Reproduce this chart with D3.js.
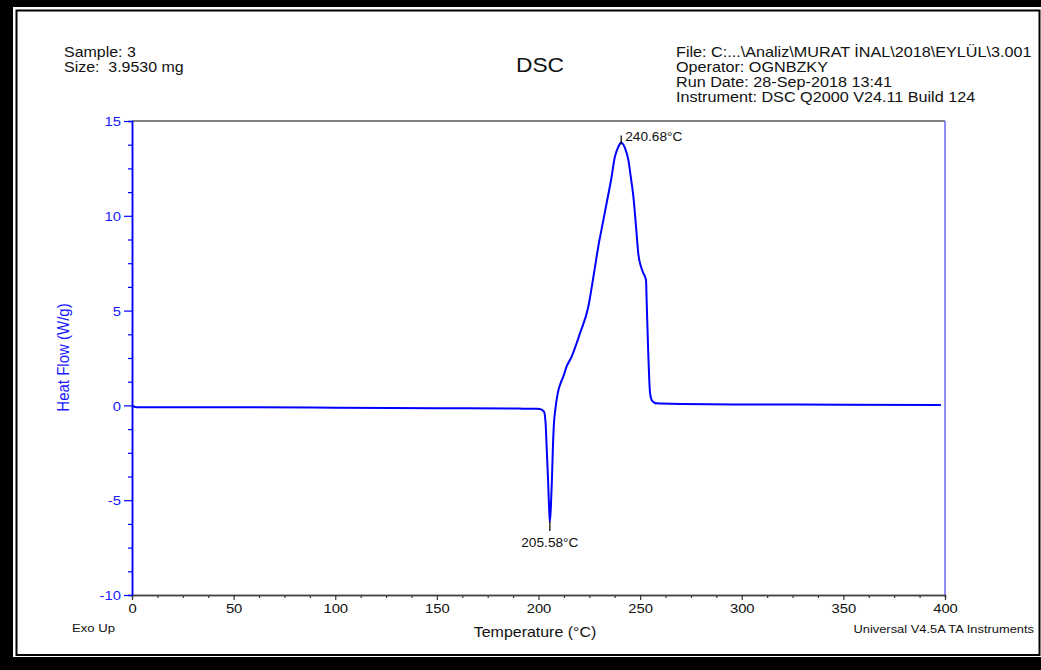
<!DOCTYPE html>
<html>
<head>
<meta charset="utf-8">
<script src="https://cdn.jsdelivr.net/npm/d3@7/dist/d3.min.js"></script>
<style>
  html, body { margin: 0; padding: 0; background: #000; }
  svg { display: block; }
  text { font-family: "Liberation Sans", Arial, Helvetica, sans-serif; white-space: pre; }
</style>
</head>
<body>
<script>
// DSC thermogram: temperature (°C) against heat flow (W/g), exo up
const temperature = [0, 1.5, 4, 20, 50, 100, 150, 190, 199, 200.7, 202.7, 203.5, 204.0, 204.7, 205.2, 205.58,
  206.1, 206.6, 207.1, 207.6, 208.3, 209.0, 209.8, 211.0, 212.2, 213.8, 216.3, 218.5, 220.4, 224.5, 227.3,
  229.4, 231.6, 233.5, 235.7, 237.6, 239.3, 240.68, 242.6, 244.2, 245.5, 246.7, 248.0, 249.1, 250.4, 251.6,
  252.9, 253.2, 253.5, 254.0, 254.5, 254.9, 255.7, 257.0, 258.1, 260, 270, 300, 350, 398];
const heatFlow = [0.0, -0.08, -0.1, -0.1, -0.1, -0.12, -0.15, -0.17, -0.18, -0.19, -0.33, -0.95, -2.18, -3.93, -5.34, -6.15,
  -5.34, -3.93, -2.18, -0.95, -0.2, 0.35, 0.8, 1.2, 1.52, 2.04, 2.57, 3.2, 3.8, 5.2, 6.97,
  8.37, 9.6, 10.66, 11.89, 13.12, 13.64, 13.87, 13.56, 12.95, 11.98, 11.0, 9.42, 8.0, 7.32, 6.97,
  6.6, 5.56, 4.5, 2.75, 1.34, 0.64, 0.28, 0.14, 0.11, 0.1, 0.07, 0.05, 0.04, 0.02];

const xTicks = [0, 50, 100, 150, 200, 250, 300, 350, 400];
const yTicks = [-10, -5, 0, 5, 10, 15];
const xMinorTicks = d3.range(0, 400.01, 12.5).filter(v => !xTicks.includes(v));
const yMinorTicks = d3.range(-10, 15.01, 1.25).filter(v => !yTicks.includes(v));

// annotated extrema: [temperature, heat flow, label]
const peakMark = [240.68, 13.87, "240.68°C"];
const troughMark = [205.58, -6.15, "205.58°C"];

const headerLeft = ["Sample: 3", "Size:  3.9530 mg"];
const headerRight = ["File: C:...\\Analiz\\MURAT İNAL\\2018\\EYLÜL\\3.001", "Operator: OGNBZKY",
  "Run Date: 28-Sep-2018 13:41", "Instrument: DSC Q2000 V24.11 Build 124"];

const W = 1041, H = 670;
const SX = 1.14; // horizontal glyph stretch of the printout

const svg = d3.select("body").append("svg").attr("width", W).attr("height", H);

// page frame: black surround, white sheet, thin inner rule
svg.append("rect").attr("x", 0).attr("y", 0).attr("width", W).attr("height", H).attr("fill", "#000");
svg.append("rect").attr("x", 13).attr("y", 7).attr("width", W - 13).attr("height", 650).attr("fill", "#fff");
svg.append("rect").attr("x", 16.5).attr("y", 10.5).attr("width", 1023).attr("height", 644.5)
  .attr("fill", "none").attr("stroke", "#000").attr("stroke-width", 2);

function label(x, y, s, o = {}) {
  return svg.append("text")
    .attr("xml:space", "preserve")
    .attr("transform", `translate(${x},${y}) scale(${SX},1)` + (o.rotate ? ` rotate(${o.rotate})` : ""))
    .attr("text-anchor", o.anchor || "start")
    .attr("font-size", o.size || 14)
    .attr("fill", o.fill || "#111")
    .text(s);
}

const x = d3.scaleLinear().domain([0, 400]).range([132, 945]);
const y = d3.scaleLinear().domain([-10, 15]).range([595, 121]);

// header blocks
headerLeft.forEach((s, i) => label(64, 57 + i * 15, s, { size: 14 }));
headerRight.forEach((s, i) => label(676, 57 + i * 15, s, { size: 14.2 }));
label(540, 72, "DSC", { size: 20, anchor: "middle" });

// plot frame: top rule and right rule
svg.append("line").attr("x1", x(0)).attr("x2", x(400)).attr("y1", y(15)).attr("y2", y(15))
  .attr("stroke", "#555").attr("stroke-width", 1.5);
svg.append("line").attr("x1", x(400)).attr("x2", x(400)).attr("y1", y(15)).attr("y2", y(-10))
  .attr("stroke", "#6a6aff").attr("stroke-width", 1.5);

const plain = d => String(d);

// y axis (blue)
const yMinor = svg.append("g").attr("transform", `translate(${x(0)},0)`)
  .call(d3.axisLeft(y).tickValues(yMinorTicks).tickSize(4).tickFormat(""));
const yAxis = svg.append("g").attr("transform", `translate(${x(0)},0)`)
  .call(d3.axisLeft(y).tickValues(yTicks).tickSize(8).tickSizeOuter(0).tickFormat(plain));
[yMinor, yAxis].forEach(g => {
  g.select(".domain").attr("stroke", "#0000ff").attr("stroke-width", 1.5);
  g.selectAll(".tick line").attr("stroke", "#0000ff").attr("stroke-width", 1.2);
});
yAxis.selectAll(".tick text")
  .attr("x", null).attr("dy", "0.36em")
  .attr("transform", `translate(-11,0) scale(${SX},1)`)
  .attr("fill", "#1a1aff").attr("font-size", 13)
  .attr("font-family", "'Liberation Sans', Arial, sans-serif");

// x axis
const xMinor = svg.append("g").attr("transform", `translate(0,${y(-10)})`)
  .call(d3.axisBottom(x).tickValues(xMinorTicks).tickSize(3).tickFormat(""));
const xAxis = svg.append("g").attr("transform", `translate(0,${y(-10)})`)
  .call(d3.axisBottom(x).tickValues(xTicks).tickSize(5).tickSizeOuter(0).tickFormat(plain));
[xMinor, xAxis].forEach(g => {
  g.select(".domain").attr("stroke", "#444").attr("stroke-width", 1.5);
  g.selectAll(".tick line").attr("stroke", "#333").attr("stroke-width", 1.2);
});
xAxis.selectAll(".tick text")
  .attr("y", null).attr("dy", null)
  .attr("transform", `translate(0,18) scale(${SX},1)`)
  .attr("fill", "#111").attr("font-size", 13)
  .attr("font-family", "'Liberation Sans', Arial, sans-serif");
// keep the blue y axis drawn over the x axis corner
yAxis.raise();

// axis titles
label(69, 357.5, "Heat Flow (W/g)", { size: 15, anchor: "middle", fill: "#1a1aff", rotate: -90 });
label(535, 637, "Temperature (°C)", { size: 14, anchor: "middle" });
label(72, 632, "Exo Up", { size: 11.5 });
label(1034, 633, "Universal V4.5A TA Instruments", { size: 11.3, anchor: "end" });

// heat-flow trace
const pts = temperature.map((t, i) => [t, heatFlow[i]]);
svg.append("path").datum(pts)
  .attr("fill", "none").attr("stroke", "#0000ff").attr("stroke-width", 2)
  .attr("stroke-linejoin", "round")
  .attr("d", d3.line().x(d => x(d[0])).y(d => y(d[1])).curve(d3.curveMonotoneX));

// extrema markers
svg.append("line").attr("x1", x(peakMark[0])).attr("x2", x(peakMark[0]))
  .attr("y1", y(peakMark[1]) - 7).attr("y2", y(peakMark[1]) + 2).attr("stroke", "#000").attr("stroke-width", 1.2);
label(x(peakMark[0]) + 4, y(peakMark[1]) - 1, peakMark[2], { size: 12 });
svg.append("line").attr("x1", x(troughMark[0])).attr("x2", x(troughMark[0]))
  .attr("y1", y(troughMark[1]) - 1).attr("y2", y(troughMark[1]) + 9).attr("stroke", "#000").attr("stroke-width", 1.2);
label(x(troughMark[0]), y(troughMark[1]) + 25, troughMark[2], { size: 12, anchor: "middle" });
</script>
</body>
</html>
